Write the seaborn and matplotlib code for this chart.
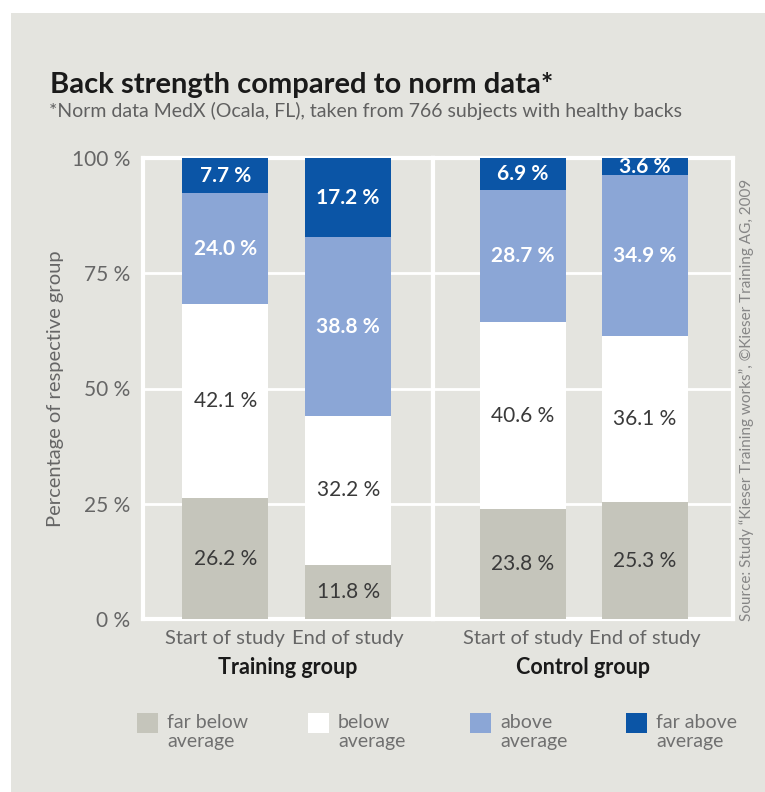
import pandas as pd
import numpy as np
import matplotlib.pyplot as plt
import seaborn as sns
from matplotlib.patches import Rectangle

# Data
phases = ['Start of study', 'End of study']
groups = ['Training group', 'Control group']
levels = ['far below\naverage', 'below\naverage', 'above\naverage', 'far above\naverage']
far_below = [26.2, 11.8, 23.8, 25.3]
below = [42.1, 32.2, 40.6, 36.1]
above = [24.0, 38.8, 28.7, 34.9]
far_above = [7.7, 17.2, 6.9, 3.6]

colors = ['#c5c5bb', '#ffffff', '#8ba6d6', '#0b55a6']
label_colors = ['#3a3a3a', '#3a3a3a', '#ffffff', '#ffffff']
bg = '#e4e4df'
W, H = 765, 792

rows = []
for i, g in enumerate(groups):
    for j, p in enumerate(phases):
        k = i * 2 + j
        vals = [far_below[k], below[k], above[k], far_above[k]]
        cum = np.cumsum(vals)
        for lvl, v, c in zip(levels, vals, cum):
            rows.append({'group': g, 'phase': p, 'level': lvl, 'value': v, 'top': c})
df = pd.DataFrame(rows)

sns.set_theme(style='white')
plt.rcParams['font.family'] = ['Lato', 'DejaVu Sans']

fig = plt.figure(figsize=(W / 100, H / 100), dpi=100, facecolor='white')
fig.patches.append(Rectangle((11 / W, 0), 1, 1 - 13 / H, transform=fig.transFigure,
                             facecolor=bg, edgecolor='none', zorder=-10))

ax_pos = [(143, 433), (433, 733)]
xlims = [(-0.668, 1.69), (-0.737, 1.72)]
for gi, g in enumerate(groups):
    x0, x1 = ax_pos[gi]
    ax = fig.add_axes([x0 / W, 1 - 619 / H, (x1 - x0) / W, (619 - 158) / H])
    ax.set_facecolor(bg)
    sub = df[df['group'] == g]
    # cumulative bars drawn top-down so lower layers sit on top
    for li in range(len(levels) - 1, -1, -1):
        d = sub[sub['level'] == levels[li]]
        sns.barplot(data=d, x='phase', y='top', order=phases, color=colors[li],
                    saturation=1, width=0.70, ax=ax, zorder=3, linewidth=0)
    for _, r in sub.iterrows():
        li = levels.index(r['level'])
        xi = phases.index(r['phase'])
        ax.text(xi, r['top'] - r['value'] / 2, f"{r['value']:.1f} %", ha='center', va='center',
                fontsize=15, fontweight='bold' if li >= 2 else 'normal',
                color=label_colors[li], zorder=5)
    ax.set_ylim(0, 100)
    ax.set_xlim(*xlims[gi])
    ax.set_yticks([0, 25, 50, 75, 100])
    for y in [25, 50, 75]:
        ax.axhline(y, color='white', lw=2, zorder=1)
    for s in ax.spines.values():
        s.set_color('white')
        s.set_linewidth(3)
        s.set_visible(True)
    ax.tick_params(length=0)
    ax.set_xlabel(g, fontsize=15.5, fontweight='bold', color='#1a1a1a', labelpad=7)
    ax.set_xticks([0, 1])
    ax.set_xticklabels(phases, fontsize=14.5, color='#666666')
    ax.tick_params(axis='x', pad=8)
    if gi == 0:
        ax.set_yticklabels([f'{v} %' for v in [0, 25, 50, 75, 100]], fontsize=15, color='#666666')
        ax.tick_params(axis='y', pad=9)
        ax.set_ylabel('Percentage of respective group', fontsize=14.5, color='#666666', labelpad=6)
    else:
        ax.set_yticklabels([])
        ax.set_ylabel('')

fig.text(50 / W, 1 - 85 / H, 'Back strength compared to norm data*', fontsize=21,
         fontweight='bold', color='#1a1a1a', va='center')
fig.text(49 / W, 1 - 111 / H, '*Norm data MedX (Ocala, FL), taken from 766 subjects with healthy backs',
         fontsize=14, color='#606060', va='center')
fig.text(747 / W, 1 - 400 / H,
         'Source: Study \u201cKieser Training works\u201d, \u00a9Kieser Training AG, 2009',
         rotation=90, fontsize=11, color='#868686', ha='center', va='center')

# legend: coloured squares with two-line labels
leg_x = [137, 308, 470, 626]
for c, lbl, lx in zip(colors, levels, leg_x):
    fig.patches.append(Rectangle((lx / W, 1 - 733 / H), 21 / W, 20 / H, transform=fig.transFigure,
                                 facecolor=c, edgecolor='none'))
    fig.text((lx + 30) / W, 1 - 714 / H, lbl, fontsize=14, color='#707070', va='top',
             ha='left', linespacing=1.15)

fig.savefig('out.png', dpi=100, facecolor='white')
